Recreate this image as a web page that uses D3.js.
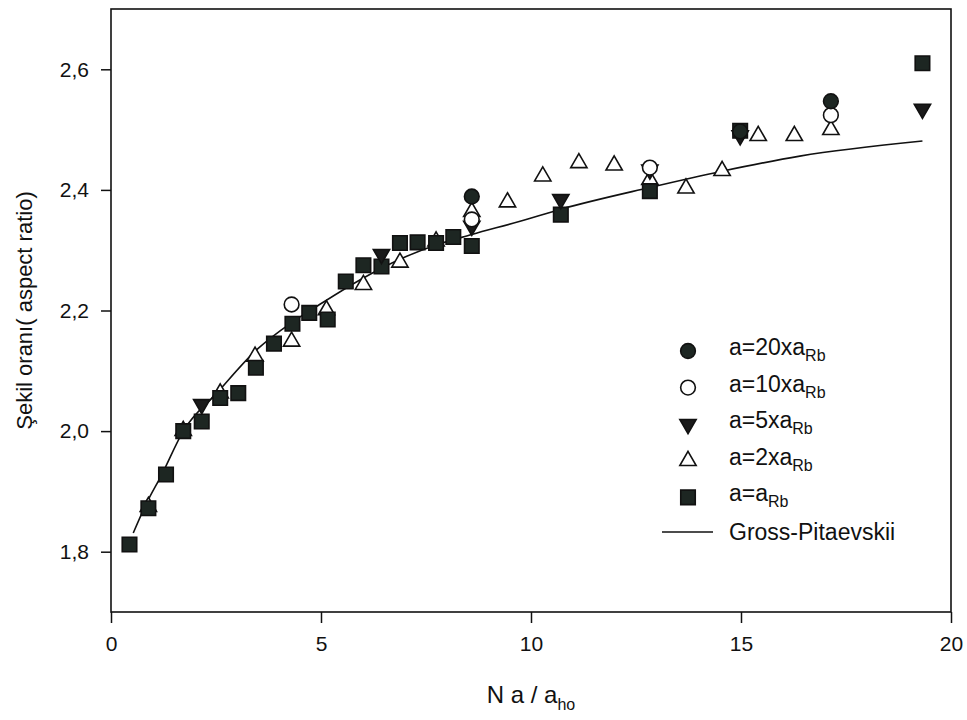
<!DOCTYPE html>
<html>
<head>
<meta charset="utf-8">
<script src="https://cdn.jsdelivr.net/npm/d3@7"></script>
<style>
  body { margin: 0; background: #fff; }
  text { font-family: "Liberation Sans", Arial, sans-serif; fill: #111; }
</style>
</head>
<body>
<svg id="chart"></svg>
<script>
'use strict';

// series
var sqX = [0.44, 0.89, 1.31, 1.72, 2.16, 2.6, 3.03, 3.45, 3.88, 4.32, 4.72, 5.16, 5.59, 6.01, 6.44, 6.88, 7.30, 7.74, 8.15, 8.59, 10.71, 12.83, 14.98, 19.32];
var sqY = [1.812, 1.872, 1.928, 2.0, 2.016, 2.055, 2.063, 2.105, 2.145, 2.178, 2.196, 2.185, 2.248, 2.275, 2.273, 2.312, 2.313, 2.312, 2.322, 2.307, 2.359, 2.398, 2.498, 2.61];

var triUpX = [0.89, 1.72, 2.6, 3.43, 4.30, 5.13, 6.01, 6.88, 7.74, 8.59, 9.44, 10.28, 11.14, 11.98, 12.83, 13.69, 14.55, 15.41, 16.27, 17.14];
var triUpY = [1.878, 2.004, 2.066, 2.127, 2.152, 2.204, 2.246, 2.283, 2.318, 2.367, 2.383, 2.426, 2.448, 2.444, 2.42, 2.406, 2.435, 2.493, 2.493, 2.503];

var triDnX = [2.16, 6.44, 8.59, 10.71, 12.83, 14.98, 19.32];
var triDnY = [2.041, 2.29, 2.337, 2.381, 2.43, 2.487, 2.531];

var openX = [4.30, 8.59, 12.83, 17.14];
var openY = [2.210, 2.351, 2.437, 2.524];

var fillX = [8.59, 14.98, 17.14];
var fillY = [2.389, 2.497, 2.547];

var gpX = [0.53, 0.85, 1.21, 1.72, 2.52, 3.47, 4.30, 4.90, 6.01, 6.88, 7.67, 8.59, 9.74, 10.71, 12.83, 14.55, 16.40, 19.32];
var gpY = [1.831, 1.881, 1.928, 2.0, 2.063, 2.135, 2.18, 2.207, 2.254, 2.285, 2.307, 2.326, 2.348, 2.368, 2.404, 2.431, 2.456, 2.481];

var xTicks = [0, 5, 10, 15, 20];
var yTicks = [1.8, 2.0, 2.2, 2.4, 2.6];

var legendNames = ['20x', '10x', '5x', '2x', ''];

var W = 967, H = 720;
var m = { left: 111, right: 16, top: 9, bottom: 108 };

var svg = d3.select('#chart').attr('width', W).attr('height', H);

var x = d3.scaleLinear().domain([0, 20]).range([m.left, W - m.right]);
var y = d3.scaleLinear().domain([1.7, 2.7]).range([H - m.bottom, m.top]);

function zip(xs, ys) {
    return xs.map(function (v, i) { return [v, ys[i]]; });
}

// frame
svg.append('rect')
    .attr('x', m.left).attr('y', m.top)
    .attr('width', W - m.right - m.left).attr('height', H - m.bottom - m.top)
    .attr('fill', 'none').attr('stroke', '#111').attr('stroke-width', 1.6);

// axes
var xAxis = svg.append('g')
    .attr('transform', 'translate(0,' + (H - m.bottom) + ')')
    .call(d3.axisBottom(x).tickValues(xTicks).tickSize(11).tickPadding(13).tickFormat(d3.format('d')));
var yAxis = svg.append('g')
    .attr('transform', 'translate(' + m.left + ',0)')
    .call(d3.axisLeft(y).tickValues(yTicks).tickSize(10).tickPadding(12)
        .tickFormat(function (d) { return d3.format('.1f')(d).replace('.', ','); }));

[xAxis, yAxis].forEach(function (a) {
    a.select('.domain').remove();
    a.selectAll('line').attr('stroke', '#111').attr('stroke-width', 1.5);
    a.selectAll('text').style('font-size', '21px').style('font-family', '"Liberation Sans", Arial, sans-serif').attr('fill', '#111');
});

// axis titles
var xt = svg.append('text')
    .attr('x', x(10)).attr('y', 703)
    .attr('text-anchor', 'middle')
    .style('font-size', '24px');
xt.append('tspan').text('N a / a');
xt.append('tspan').attr('dy', 7).style('font-size', '16px').text('ho');

svg.append('text')
    .attr('transform', 'translate(32,' + y(2.2) + ') rotate(-90)')
    .attr('text-anchor', 'middle')
    .style('font-size', '22px')
    .text('Şekil oranı( aspect ratio)');

// Gross-Pitaevskii curve
var line = d3.line()
    .x(function (d) { return x(d[0]); })
    .y(function (d) { return y(d[1]); })
    .curve(d3.curveMonotoneX);

svg.append('path')
    .datum(zip(gpX, gpY))
    .attr('d', line)
    .attr('fill', 'none')
    .attr('stroke', '#111')
    .attr('stroke-width', 1.6);

var symSquare = d3.symbol().type(d3.symbolSquare).size(210);
var symCircle = d3.symbol().type(d3.symbolCircle).size(170);
var symTri = d3.symbol().type(d3.symbolTriangle).size(115);

function drawSeries(data, sym, fill, rot, dy) {
    svg.append('g').selectAll('path').data(data).enter().append('path')
        .attr('d', sym)
        .attr('transform', function (d) {
            return 'translate(' + x(d[0]) + ',' + (y(d[1]) + (dy || 0)) + ') rotate(' + (rot || 0) + ')';
        })
        .attr('fill', fill)
        .attr('stroke', '#111')
        .attr('stroke-width', 1.6);
}

// draw order: open markers first, filled on top as in the scan
drawSeries(zip(triUpX, triUpY), symTri, '#fff', 0, 2);
drawSeries(zip(sqX, sqY), symSquare, '#1d2622');
drawSeries(zip(triDnX, triDnY), symTri, '#1a1a1a', 180, -2);
drawSeries(zip(openX, openY), symCircle, '#fff');
drawSeries(zip(fillX, fillY), symCircle, '#1d2622');

// legend
var legY0 = 349, legStep = 36.6, legMx = 688, legTx = 729;
var legSyms = [
    { sym: symCircle, fill: '#1d2622', rot: 0 },
    { sym: symCircle, fill: '#fff', rot: 0 },
    { sym: symTri, fill: '#1a1a1a', rot: 180 },
    { sym: symTri, fill: '#fff', rot: 0 },
    { sym: symSquare, fill: '#1d2622', rot: 0 }
];

legendNames.forEach(function (name, i) {
    var cy = legY0 + i * legStep;
    var s = legSyms[i];
    svg.append('path')
        .attr('d', s.sym)
        .attr('transform', 'translate(' + legMx + ',' + (cy + 2) + ') rotate(' + s.rot + ')')
        .attr('fill', s.fill)
        .attr('stroke', '#111')
        .attr('stroke-width', 1.6);
    var t = svg.append('text').attr('x', legTx).attr('y', cy + 6).style('font-size', '23px');
    t.append('tspan').text('a=' + name + 'a');
    t.append('tspan').attr('dy', 6).style('font-size', '16px').text('Rb');
});

var gpRow = legY0 + 5 * legStep;
svg.append('line')
    .attr('x1', 662).attr('x2', 713)
    .attr('y1', gpRow).attr('y2', gpRow)
    .attr('stroke', '#111').attr('stroke-width', 1.6);
svg.append('text')
    .attr('x', legTx).attr('y', gpRow + 8)
    .style('font-size', '23px')
    .text('Gross-Pitaevskii');
</script>
</body>
</html>
